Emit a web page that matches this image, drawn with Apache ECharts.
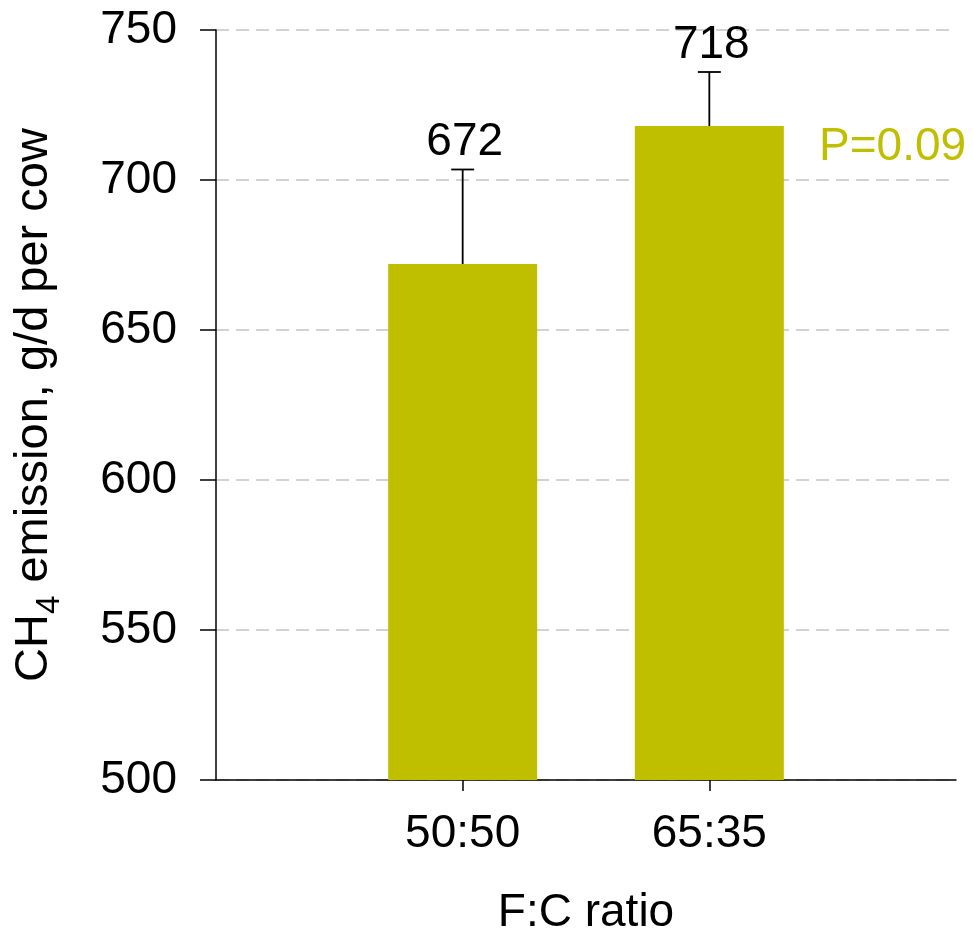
<!DOCTYPE html>
<html>
<head>
<meta charset="utf-8">
<style>
  html, body { margin: 0; padding: 0; background: #ffffff; }
  #chart { width: 973px; height: 938px; }
</style>
<script src="https://cdn.jsdelivr.net/npm/echarts@6/dist/echarts.min.js"></script>
</head>
<body>
<div id="chart"></div>
<script>
// Forage:concentrate ratio groups (blank slots pad the axis ends)
const categories = ['', '50:50', '65:35', ''];
// Mean CH4 emission, g/d per cow
const means = [null, 672, 718, null];
// Upper error (SE) above each mean
const errors = [null, 31.5, 18, null];
// Value-axis ticks
const yTicks = [500, 550, 600, 650, 700, 750];
const pValueText = 'P=0.09';

const FONT = '"Liberation Sans", Arial, Helvetica, sans-serif';
const OLIVE = '#bfbf00';

const chart = echarts.init(document.getElementById('chart'), null, { renderer: 'canvas' });

const errorData = means.map((m, i) => (m == null ? null : [i, m, errors[i]])).filter(Boolean);

chart.setOption({
  animation: false,
  backgroundColor: '#ffffff',
  textStyle: { fontFamily: FONT },
  grid: {
    left: 216, right: 17, top: 30, bottom: 158,
    containLabel: false,
    outerBoundsMode: 'none'
  },
  xAxis: {
    type: 'category',
    data: categories,
    boundaryGap: false,
    axisLine: { lineStyle: { color: '#000000', width: 1.5 } },
    axisTick: {
      length: 11,
      lineStyle: { color: '#000000', width: 1.5 },
      interval: (idx) => categories[idx] !== ''
    },
    axisLabel: {
      interval: 0,
      margin: 31,
      color: '#000000',
      fontSize: 46,
      fontFamily: FONT
    },
    splitLine: { show: false },
    name: 'F:C ratio',
    nameLocation: 'middle',
    nameGap: 110,
    nameTextStyle: { color: '#000000', fontSize: 46, fontFamily: FONT }
  },
  yAxis: {
    type: 'value',
    min: yTicks[0],
    max: yTicks[yTicks.length - 1],
    interval: yTicks[1] - yTicks[0],
    axisLine: { show: true, lineStyle: { color: '#000000', width: 1.5 } },
    axisTick: { show: true, length: 16, lineStyle: { color: '#000000', width: 1.5 } },
    axisLabel: { margin: 39, color: '#000000', fontSize: 46, fontFamily: FONT },
    splitLine: {
      show: true,
      lineStyle: { color: '#c4c4c4', width: 1.5, type: [13, 7] }
    },
    name: '{m|CH}{s|4}{m| emission, g/d per cow}',
    nameLocation: 'middle',
    nameRotate: 90,
    nameGap: 150,
    nameTextStyle: {
      color: '#000000',
      fontFamily: FONT,
      rich: {
        m: { fontSize: 47, fontFamily: FONT, color: '#000000' },
        s: { fontSize: 33, fontFamily: FONT, color: '#000000', padding: [30, 0, 0, 0] }
      }
    }
  },
  series: [
    {
      type: 'bar',
      data: means,
      barWidth: 149,
      itemStyle: { color: OLIVE },
      z: 2
    },
    {
      type: 'custom',
      data: errorData,
      z: 3,
      renderItem: function (params, api) {
        const idx = api.value(0);
        const mean = api.value(1);
        const err = api.value(2);
        const base = api.coord([idx, mean]);
        const top = api.coord([idx, mean + err]);
        const cap = 11.5;
        return {
          type: 'group',
          children: [
            {
              type: 'line',
              shape: { x1: base[0], y1: base[1], x2: top[0], y2: top[1] },
              style: { stroke: '#000000', lineWidth: 1.8 }
            },
            {
              type: 'line',
              shape: { x1: top[0] - cap, y1: top[1], x2: top[0] + cap, y2: top[1] },
              style: { stroke: '#000000', lineWidth: 1.8 }
            },
            {
              type: 'text',
              x: top[0] + 2,
              y: top[1] - 4,
              style: {
                text: String(mean),
                fontSize: 46,
                fontFamily: FONT,
                fill: '#000000',
                align: 'center',
                verticalAlign: 'bottom'
              }
            }
          ]
        };
      }
    }
  ],
  graphic: [
    {
      type: 'text',
      left: 819,
      top: 124,
      style: {
        text: pValueText,
        fontSize: 46,
        fontFamily: FONT,
        fill: OLIVE
      }
    }
  ]
});
</script>
</body>
</html>
